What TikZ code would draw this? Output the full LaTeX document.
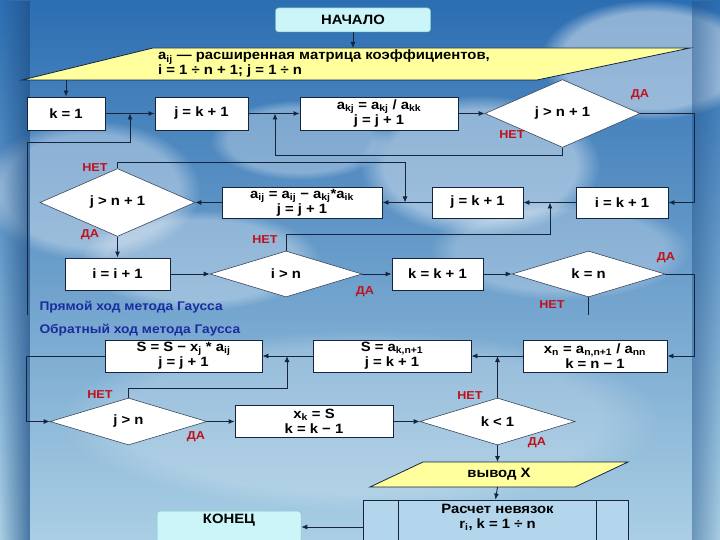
\documentclass[tikz,border=0pt]{standalone}
\usepackage{fontspec}
\setmainfont{Liberation Sans}[FakeStretch=1.1]
\usetikzlibrary{shapes.geometric,arrows.meta,fadings,calc}
\definecolor{skyTop}{HTML}{2C6EB2}
\definecolor{skyMid}{HTML}{7DB8E2}
\definecolor{skyBot}{HTML}{AACFE4}
\definecolor{skyDark}{HTML}{1E4F86}
\definecolor{lineC}{HTML}{15253F}
\definecolor{yel}{HTML}{FFFF9E}
\definecolor{cyanbox}{HTML}{CBF5F8}
\definecolor{redlab}{HTML}{C0121C}
\definecolor{bluetx}{HTML}{1A2C9E}
\definecolor{calcfill}{HTML}{B3D6EC}
\newcommand{\sbs}[1]{\textsubscript{#1}}
\begin{document}
\begin{tikzpicture}[x=1pt,y=-1pt,
  txt/.style={font=\fontsize{13.5}{15}\selectfont\bfseries, align=center, text=black},
  box/.style={txt, draw=lineC, line width=0.9pt, fill=white, inner sep=1pt},
  dia/.style={txt, diamond, draw=lineC!85, line width=0.6pt, fill=white, inner sep=0pt},
  term/.style={txt, rounded corners=3pt, draw=cyanbox!60!teal, line width=0.5pt, fill=cyanbox, inner sep=0pt},
  arr/.style={draw=lineC, line width=0.9pt, -{Latex[length=6pt,width=5pt]}},
  ln/.style={draw=lineC, line width=0.9pt},
  lab/.style={font=\fontsize{11.5}{13}\selectfont\bfseries, text=redlab},
  bluetxt/.style={font=\fontsize{12.5}{14}\selectfont\bfseries, text=bluetx, anchor=west}
]
\useasboundingbox (0,0) rectangle (720,540);
\clip (0,0) rectangle (720,540);
% background sky
\shade[top color=skyTop, middle color=skyMid, bottom color=skyBot] (0,0) rectangle (720,540);
\fill[white, opacity=0.45, path fading=circle with fuzzy edge 20 percent] (650,60) ellipse (110pt and 60pt);
\fill[white, opacity=0.40, path fading=circle with fuzzy edge 20 percent] (480,165) ellipse (120pt and 70pt);
\fill[white, opacity=0.35, path fading=circle with fuzzy edge 20 percent] (90,190) ellipse (110pt and 70pt);
\fill[white, opacity=0.30, path fading=circle with fuzzy edge 20 percent] (300,140) ellipse (90pt and 40pt);
\fill[white, opacity=0.30, path fading=circle with fuzzy edge 20 percent] (200,260) ellipse (120pt and 50pt);
\fill[white, opacity=0.25, path fading=circle with fuzzy edge 20 percent] (560,250) ellipse (130pt and 50pt);
\fill[white, opacity=0.20, path fading=circle with fuzzy edge 20 percent] (360,420) ellipse (300pt and 90pt);
\fill[skyDark, opacity=0.7, path fading=west] (0,0) rectangle (30,540);
\fill[skyDark, opacity=0.45, path fading=east] (692,0) rectangle (720,540);

% start
\node[term, minimum width=155pt, minimum height=24pt] (start) at (353,20) {НАЧАЛО};
% input parallelogram
\filldraw[fill=yel, draw=lineC, line width=0.8pt] (153,48) -- (690,48) -- (537,80) -- (22,80) -- cycle;
\node[txt, align=left, anchor=north west, inner sep=0pt] (intext) at (158,50)
  {a\sbs{ij} — расширенная матрица коэффициентов,\\ i = 1 ÷ n + 1; j = 1 ÷ n};
\coordinate (inT) at (353,48);
\coordinate (inB) at (66,80);

% row 1
\node[box, minimum width=78pt, minimum height=33pt] (k1) at (66,113.5) {k = 1};
\node[box, minimum width=93pt, minimum height=33pt] (jk1) at (201.5,113.5) {j = k + 1};
\node[box, minimum width=158pt, minimum height=33pt] (akj) at (379,113.5) {a\sbs{kj} = a\sbs{kj} / a\sbs{kk}\\ j = j + 1};
\node[dia, minimum width=155pt, minimum height=49pt] (d1) at (562.5,113.5) {j > n + 1};

% row 2
\node[box, minimum width=92pt, minimum height=31pt] (ik1) at (622,202.5) {i = k + 1};
\node[box, minimum width=91pt, minimum height=31pt] (jk1b) at (477.5,202.5) {j = k + 1};
\node[box, minimum width=160pt, minimum height=31pt] (aij) at (302,202.5) {a\sbs{ij} = a\sbs{ij} − a\sbs{kj}*a\sbs{ik}\\ j = j + 1};
\node[dia, minimum width=155pt, minimum height=48pt] (d2) at (117.5,202.5) {j > n + 1};

% row 3
\node[box, minimum width=105pt, minimum height=32pt] (ii1) at (117.5,274) {i = i + 1};
\node[dia, minimum width=152pt, minimum height=46pt] (d3) at (286,274) {i > n};
\node[box, minimum width=91pt, minimum height=32pt] (kk1) at (437.5,274) {k = k + 1};
\node[dia, minimum width=153pt, minimum height=46pt] (d4) at (588.5,274) {k = n};

\node[bluetxt] (t1) at (36,307) {Прямой ход метода Гаусса};
\node[bluetxt] (t2) at (36,330) {Обратный ход метода Гаусса};

% row 4
\node[box, minimum width=157pt, minimum height=32pt] (ss) at (183.5,356) {S = S − x\sbs{j} * a\sbs{ij}\\ j = j + 1};
\node[box, minimum width=158pt, minimum height=32pt] (sa) at (392,356) {S = a\sbs{k,n+1}\\ j = k + 1};
\node[box, minimum width=144pt, minimum height=32pt] (xn) at (595,356) {x\sbs{n} = a\sbs{n,n+1} / a\sbs{nn}\\ k = n − 1};

% row 5
\node[dia, minimum width=157pt, minimum height=47pt] (d5) at (128.5,421.5) {j > n};
\node[box, minimum width=158pt, minimum height=32pt] (xk) at (314,421.5) {x\sbs{k} = S\\ k = k − 1};
\node[dia, minimum width=155pt, minimum height=47pt] (d6) at (497.5,421.5) {k < 1};

% output parallelogram
\filldraw[fill=yel, draw=lineC, line width=0.8pt] (423,462) -- (628,462) -- (575,487) -- (370,487) -- cycle;
\node[txt] (outt) at (499,474.5) {вывод X};
\coordinate (outT) at (497.5,462);
\coordinate (outB) at (497.5,487);

% calc (predefined process)
\node[draw=lineC, line width=0.8pt, fill=calcfill, minimum width=265pt, minimum height=54pt, inner sep=0pt] (calc) at (495.5,527) {};
\draw[ln] (398,500) -- (398,560);
\draw[ln] (596,500) -- (596,560);
\node[txt, anchor=north, inner sep=0pt] (calct) at (497.5,504) {Расчет невязок\\ r\sbs{i}, k = 1 ÷ n};

% end
\node[term, minimum width=144pt, minimum height=32pt] (end) at (229,527) {};
\node[txt, anchor=north, inner sep=0pt] (endt) at (229,514) {КОНЕЦ};

% connectors
\draw[arr] (start) -- (inT);
\draw[arr] (inB) -- (k1.north);
\draw[arr] (k1) -- (jk1);
\draw[arr] (jk1) -- (akj);
\draw[arr] (akj) -- (d1.west);
\draw[arr] (d1.east) -- ++(54,0) |- (ik1.east);
\coordinate (m1) at (275,113.5);
\draw[arr] (d1.south) -- ++(0,8) -| (m1);
\coordinate (gapL) at (27,315);
\coordinate (m0) at (130,113.5);
\draw[arr] (gapL) |- (130,142) -- (m0);
\draw[arr] (ik1) -- (jk1b);
\coordinate (m2) at (550,202.5);
\draw[arr] (d3.north) |- (550,234) -- (m2);
\draw[arr] (jk1b) -- (aij);
\coordinate (m3) at (405,202.5);
\draw[arr] (d2.north) |- (405,162) -- (m3);
\draw[arr] (aij) -- (d2.east);
\draw[arr] (d2.south) -- (ii1.north);
\draw[arr] (ii1) -- (d3.west);
\draw[arr] (d3.east) -- (kk1);
\draw[arr] (kk1) -- (d4.west);
\draw[arr] (d4.east) -- ++(29,0) |- (xn.east);
\coordinate (gapR) at (588.5,315);
\draw[ln] (d4.south) -- (gapR);
\draw[arr] (xn) -- (sa);
\coordinate (m4) at (497.5,356);
\draw[arr] (d6.north) -- (m4);
\draw[arr] (sa) -- (ss);
\coordinate (m5) at (287,356);
\draw[arr] (d5.north) |- (287,388) -- (m5);
\draw[arr] (ss.west) -- ++(-78,0) |- (d5.west);
\draw[arr] (d5.east) -- (xk);
\draw[arr] (xk) -- (d6.west);
\draw[arr] (d6.south) -- (outT);
\draw[arr] (outB) -- (calc.north);
\draw[arr] (calc.west) -- (end.east);

% labels
\node[lab] (l1) at (640,95) {ДА};
\node[lab] (l2) at (512,135) {НЕТ};
\node[lab] (l3) at (95,168) {НЕТ};
\node[lab] (l4) at (90,235) {ДА};
\node[lab] (l5) at (265,240) {НЕТ};
\node[lab] (l6) at (365,292) {ДА};
\node[lab] (l7) at (666,258) {ДА};
\node[lab] (l8) at (552,305) {НЕТ};
\node[lab] (l9) at (100,395) {НЕТ};
\node[lab] (l10) at (196,437) {ДА};
\node[lab] (l11) at (470,396) {НЕТ};
\node[lab] (l12) at (537,443) {ДА};
\end{tikzpicture}
\end{document}
